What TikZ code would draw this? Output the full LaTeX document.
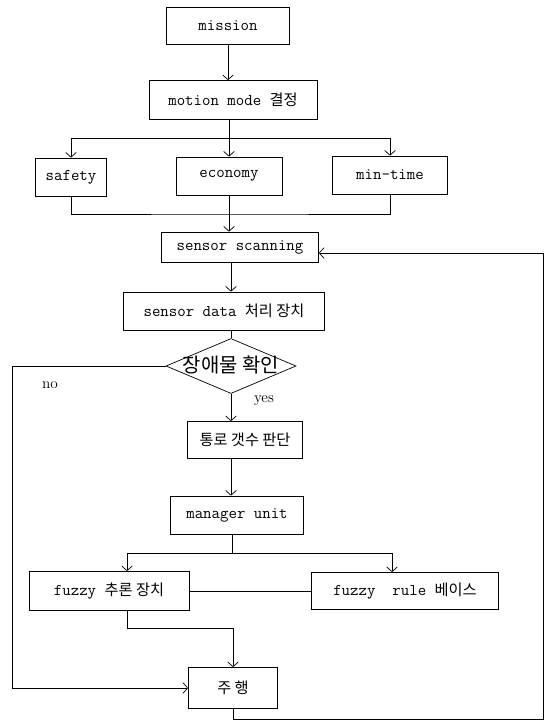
\documentclass[tikz,border=0pt]{standalone}
\usepackage{fontspec}
\newfontfamily\kr{Noto Sans CJK KR}
\usetikzlibrary{shapes.geometric,arrows.meta}
\newcommand\kor[1]{{\kr\fontsize{13}{15}\selectfont #1}}

\begin{document}
\begin{tikzpicture}[x=0.03cm, y=-0.03cm]
    % Define styles
    \tikzset{
        box/.style={draw, line width=0.6pt, inner sep=0pt, font=\fontsize{14}{16}\selectfont\ttfamily},
        decision/.style={draw, diamond, line width=0.6pt, inner sep=0pt},
        flow/.style={-{Straight Barb[length=4pt,width=9pt]}, line width=0.6pt},
        wire/.style={line width=0.6pt},
        tag/.style={font=\fontsize{13}{15}\selectfont}
    }
    \useasboundingbox (0,0) rectangle (552,721);

    % Mission and mode selection
    \node[box, minimum width=3.69cm, minimum height=1.11cm] (mission) at (228,26) {mission};
    \node[box, minimum width=5.04cm, minimum height=1.17cm] (mode) at (233,100) {motion mode \kor{결정}};

    % Motion modes
    \node[box, minimum width=2.13cm, minimum height=1.14cm] (safety) at (71,177) {safety};
    \node[box, minimum width=3.18cm, minimum height=1.14cm] (economy) at (229,176) {economy};
    \node[box, minimum width=3.45cm, minimum height=1.14cm] (mintime) at (390,175) {min-time};

    % Sensor part
    \node[box, minimum width=4.71cm, minimum height=0.9cm] (scan) at (240,247) {sensor scanning};
    \node[box, minimum width=6.03cm, minimum height=1.14cm] (data) at (224,311) {sensor data \kor{처리 장치}};
    \node[decision, minimum width=3.9cm, minimum height=1.65cm] (obst) at (231,366) {};
    \node[font=\kr\fontsize{17}{19}\selectfont] (obstlbl) at (231,365) {장애물 확인};
    \node[tag] (nolbl) at (50,385) {no};
    \node[tag] (yeslbl) at (264,401) {yes};

    % Decision part
    \node[box, minimum width=3.45cm, minimum height=1.11cm] (path) at (245,440) {\kor{통로 갯수 판단}};
    \node[box, minimum width=3.99cm, minimum height=1.14cm] (manager) at (237,515) {manager unit};
    \node[box, minimum width=4.8cm, minimum height=1.17cm] (fuzzinf) at (109,591) {fuzzy \kor{추론 장치}};
    \node[box, minimum width=5.61cm, minimum height=1.11cm] (fuzzrule) at (405,591) {fuzzy\ \ rule \kor{베이스}};
    \node[box, minimum width=2.67cm, minimum height=1.23cm] (drive) at (233,688) {\kor{주 행}};

    % Helper coordinates
    \coordinate (axis) at (231,0);
    \coordinate (split1) at (229,138);
    \coordinate (merge1) at (229,214);
    \coordinate (nodown) at (12,688);
    \coordinate (split2) at (232,553);
    \coordinate (split2l) at (127,553);
    \coordinate (split2r) at (392,553);
    \coordinate (joinl) at (127,628);
    \coordinate (joinr) at (233,628);
    \coordinate (loopb) at (543,719);
    \coordinate (looptop) at (543,253);

    % Arrows: top
    \draw[flow] (mission.south) -- (mission.south |- mode.north);
    \draw[wire] (split1 |- mode.south) -- (split1);
    \draw[wire] (safety.north |- split1) -- (mintime.north |- split1);
    \draw[flow] (safety.north |- split1) -- (safety.north);
    \draw[flow] (split1) -- (economy.north);
    \draw[flow] (mintime.north |- split1) -- (mintime.north);
    \draw[wire] (safety.south) |- (merge1) -| (mintime.south);
    \draw[wire] (economy.south) -- (merge1);
    \draw[flow] (merge1) -- (merge1 |- scan.north);

    % Arrows: sensor
    \draw[flow] (axis |- scan.south) -- (axis |- data.north);
    \draw[wire] (axis |- data.south) -- (obst.north);
    \draw[flow] (obst.south) -- (axis |- path.north);
    \draw[flow] (obst.west) -| (nodown) -- (drive.west);

    % Arrows: fuzzy
    \draw[flow] (axis |- path.south) -- (axis |- manager.north);
    \draw[wire] (split2 |- manager.south) -- (split2);
    \draw[wire] (split2l) -- (split2r);
    \draw[flow] (split2l) -- (split2l |- fuzzinf.north);
    \draw[flow] (split2r) -- (split2r |- fuzzrule.north);
    \draw[wire] (fuzzinf) -- (fuzzrule);
    \draw[flow] (joinl |- fuzzinf.south) -- (joinl) -- (joinr) -- (drive.north);

    % Loop back
    \draw[flow] (drive.south) |- (loopb) -- (looptop) -- (scan.east |- looptop);

\end{tikzpicture}
\end{document}
